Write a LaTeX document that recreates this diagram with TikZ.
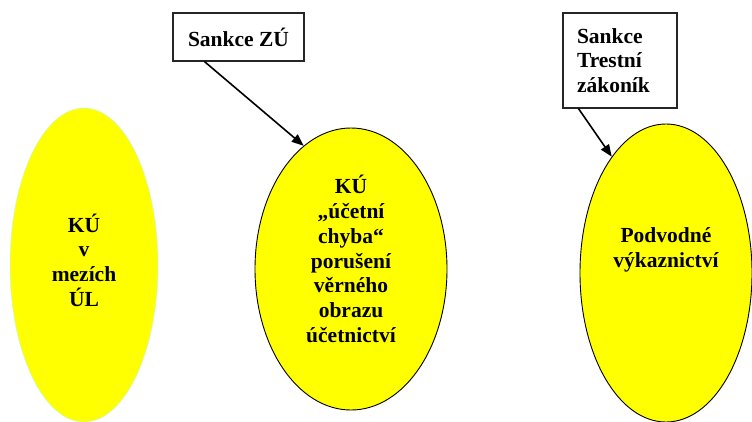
\documentclass[tikz,border=0pt]{standalone}
\usepackage{fontspec}
\setmainfont{Liberation Serif}
\usetikzlibrary{shapes.geometric,arrows.meta}
\definecolor{ovalfill}{RGB}{255,255,0}
\definecolor{ovaledge}{RGB}{200,250,225}
\tikzset{
  oval/.style={ellipse, fill=ovalfill, draw=black, line width=0.9pt, inner sep=0pt},
  plainoval/.style={oval, draw=ovaledge, line width=0.5pt},
  lbl/.style={font=\bfseries\fontsize{21.5}{24.7}\selectfont, align=center, inner sep=0pt},
  note/.style={draw=black!85, line width=1.1pt, fill=white, font=\bfseries\fontsize{21.5}{24.7}\selectfont, inner sep=0pt},
  link/.style={line width=1.6pt, -{Triangle[length=12pt,width=9.5pt]}}
}
\begin{document}
\begin{tikzpicture}[x=1pt,y=-1pt]
\useasboundingbox (0,0) rectangle (752,421);

% three ovals
\node[plainoval, minimum width=148, minimum height=314] (ul) at (84,265) {};
\node[oval, minimum width=192, minimum height=282] (ku) at (351,269) {};
\node[oval, minimum width=172, minimum height=298] (pv) at (666,273) {};

% their texts
\node[lbl] (ultext) at (84,260) {KÚ\\v\\mezích\\ÚL};
\node[lbl] (kutext) at (351,259) {KÚ\\„účetní\\chyba“\\porušení\\věrného\\obrazu\\účetnictví};
\node[lbl] (pvtext) at (666,250) {Podvodné\\výkaznictví};

% sanction boxes
\node[note, minimum width=131, minimum height=48] (zu) at (238.5,37) {Sankce ZÚ};
\node[note, minimum width=114, minimum height=95, text width=86, align=left] (tz) at (620,60.5) {Sankce\\Trestní\\zákoník};

% where the arrows leave the boxes
\coordinate (zuout) at ([xshift=32]zu.south west);
\coordinate (tzout) at ([xshift=16]tz.south west);

\draw[link] (zuout) -- (ku.111);
\draw[link] (tzout) -- (pv.115);
\end{tikzpicture}
\end{document}
